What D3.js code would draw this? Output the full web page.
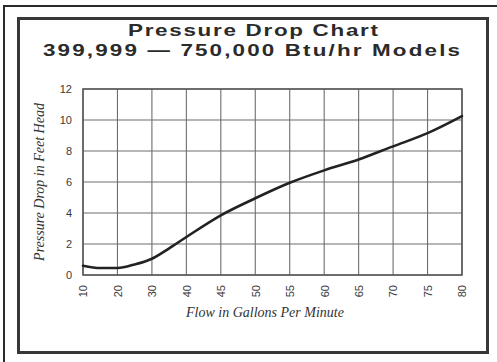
<!DOCTYPE html>
<html>
<head>
<meta charset="utf-8">
<script src="https://cdn.jsdelivr.net/npm/d3@7"></script>
<style>
  html, body { margin: 0; padding: 0; background: #fff; }
  svg { display: block; }
</style>
</head>
<body>
<script>
// Tick labels along the flow axis (evenly spaced on the chart, not proportional)
const flowTicks = [10, 20, 30, 40, 45, 50, 55, 60, 65, 70, 75, 80];
const headTicks = [0, 2, 4, 6, 8, 10, 12];

// Curve samples: flow (gpm) and pressure drop (ft of head)
const flow = [10, 15, 20, 25, 30, 35, 40, 45, 50, 55, 60, 65, 70, 75, 80];
const head = [0.6, 0.45, 0.45, 0.68, 1.05, 1.72, 2.45, 3.85, 4.95, 5.95, 6.75, 7.45, 8.3, 9.15, 10.25];

const titleLines = ["Pressure Drop Chart", "399,999 \u2014 750,000  Btu/hr Models"];
const xTitle = "Flow in Gallons Per Minute";
const yTitle = "Pressure Drop in Feet Head";

const W = 497, H = 362;
const plot = { left: 83, right: 462, top: 89, bottom: 275 };

const svg = d3.select("body").append("svg")
  .attr("width", W).attr("height", H);

// Outer frame (top and left edges)
svg.append("path")
  .attr("d", `M4,${H} L4,6 L${W},6`)
  .attr("fill", "none").attr("stroke", "#2a2a2a").attr("stroke-width", 2);

// Inner frame
svg.append("rect")
  .attr("x", 18.5).attr("y", 18.5)
  .attr("width", 469).attr("height", 334)
  .attr("fill", "#fff").attr("stroke", "#383838").attr("stroke-width", 3);

// Titles: wide bold lettering, stretched horizontally
const titleStretch = 1.36;
const titleSpec = [
  { cx: 253, y: 36, len: 250 },
  { cx: 251.5, y: 56, len: 417 }
];
svg.selectAll("text.title").data(titleLines).join("text")
  .attr("class", "title")
  .attr("transform", (d, i) => `translate(${titleSpec[i].cx},${titleSpec[i].y}) scale(${titleStretch},1)`)
  .attr("text-anchor", "middle")
  .attr("font-family", "Liberation Sans, Arial, sans-serif")
  .attr("font-weight", "bold")
  .attr("font-size", 16.5)
  .attr("fill", "#2b2b2b")
  .attr("textLength", (d, i) => titleSpec[i].len / titleStretch)
  .attr("lengthAdjust", "spacing")
  .text(d => d);

// Piecewise scale: every labelled flow value sits on an evenly spaced gridline
const step = (plot.right - plot.left) / (flowTicks.length - 1);
const x = d3.scaleLinear()
  .domain(flowTicks)
  .range(flowTicks.map((d, i) => plot.left + i * step));

const y = d3.scaleLinear().domain([0, 12]).range([plot.bottom, plot.top]);

// Gridlines
const grid = svg.append("g").attr("stroke", "#6e6e6e").attr("stroke-width", 1.1);
grid.selectAll("line.v").data(flowTicks).join("line")
  .attr("x1", d => x(d)).attr("x2", d => x(d))
  .attr("y1", plot.top).attr("y2", plot.bottom);
grid.selectAll("line.h").data(headTicks).join("line")
  .attr("x1", plot.left).attr("x2", plot.right)
  .attr("y1", d => y(d)).attr("y2", d => y(d));

// Plot border
svg.append("rect")
  .attr("x", plot.left).attr("y", plot.top)
  .attr("width", plot.right - plot.left).attr("height", plot.bottom - plot.top)
  .attr("fill", "none").attr("stroke", "#555").attr("stroke-width", 1.5);

// Y axis tick labels
const yAxis = svg.append("g")
  .attr("transform", `translate(${plot.left},0)`)
  .call(d3.axisLeft(y).tickValues(headTicks).tickSize(0).tickPadding(11));
yAxis.select(".domain").remove();
yAxis.selectAll("text")
  .attr("font-family", "Liberation Sans, Arial, sans-serif")
  .attr("font-size", 11).attr("fill", "#3a3a3a");

// X axis tick labels (rotated)
const xAxis = svg.append("g")
  .attr("transform", `translate(0,${plot.bottom})`)
  .call(d3.axisBottom(x).tickValues(flowTicks).tickSize(0).tickFormat(d3.format("d")));
xAxis.select(".domain").remove();
xAxis.selectAll("text")
  .attr("font-family", "Liberation Sans, Arial, sans-serif")
  .attr("font-size", 11).attr("fill", "#3a3a3a")
  .attr("text-anchor", "end")
  .attr("transform", "rotate(-90)")
  .attr("x", -10).attr("y", 0).attr("dy", "0.35em");

// Axis titles
svg.append("text")
  .attr("x", 265).attr("y", 317)
  .attr("text-anchor", "middle")
  .attr("font-family", "Liberation Serif, Times New Roman, serif")
  .attr("font-style", "italic").attr("font-size", 14)
  .attr("fill", "#333")
  .text(xTitle);

svg.append("text")
  .attr("transform", `translate(44,${(plot.top + plot.bottom) / 2}) rotate(-90)`)
  .attr("text-anchor", "middle")
  .attr("font-family", "Liberation Serif, Times New Roman, serif")
  .attr("font-style", "italic").attr("font-size", 14)
  .attr("fill", "#333")
  .text(yTitle);

// Pressure drop curve
const line = d3.line()
  .x((d, i) => x(flow[i]))
  .y(d => y(d))
  .curve(d3.curveMonotoneX);

svg.append("path")
  .datum(head)
  .attr("d", line)
  .attr("fill", "none")
  .attr("stroke", "#222")
  .attr("stroke-width", 2.6)
  .attr("stroke-linecap", "round");
</script>
</body>
</html>
